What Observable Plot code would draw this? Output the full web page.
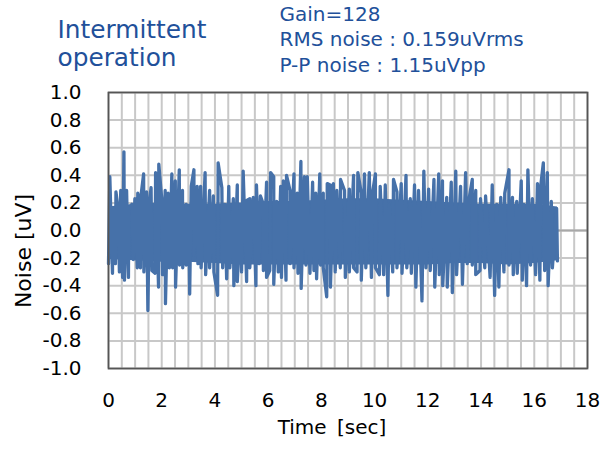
<!DOCTYPE html>
<html>
<head>
<meta charset="utf-8">
<script src="https://cdn.jsdelivr.net/npm/d3@7"></script>
<script src="https://cdn.jsdelivr.net/npm/@observablehq/plot@0.6"></script>
<style>
  html, body { margin: 0; padding: 0; background: #fff; }
  #wrap { position: relative; width: 611px; height: 450px; font-family: "DejaVu Sans", Verdana, sans-serif; }
  .t { position: absolute; white-space: pre; line-height: 1; }
  .title { color: #21509a; font-size: 24.8px; left: 57.5px; }
  .note { color: #21509a; font-size: 20px; left: 279.5px; }
  .axl { color: #000; }
</style>
</head>
<body>
<div id="wrap"></div>
<script>
// Upper peaks of the noise trace (time in sec, value in uV)
const topT = [0.05,0.16,0.28,0.36,0.46,0.58,0.68,0.76,0.88,0.99,1.10,1.22,1.32,1.43,1.54,1.60,1.77,1.89,2.00,2.13,2.24,2.38,2.51,2.66,2.78,2.92,3.01,3.11,3.21,3.33,3.46,3.63,3.80,3.94,4.12,
  4.26,4.37,4.52,4.69,4.84,4.96,5.06,5.21,5.31,5.44,5.56,5.71,5.82,5.94,6.09,6.21,6.32,6.47,6.57,6.69,6.82,6.97,7.09,7.23,7.36,7.47,7.67,7.79,7.94,8.07,8.22,
  8.33,8.45,8.58,8.72,8.87,9.05,9.21,9.37,9.50,9.62,9.80,9.92,10.03,10.21,10.40,10.55,10.71,10.84,11.00,11.18,11.34,11.50,11.65,11.85,12.03,12.23,12.41,
  12.55,12.71,12.88,13.05,13.23,13.42,13.55,13.67,13.80,13.98,14.17,14.42,14.59,14.74,14.89,15.05,15.18,15.34,15.51,15.61,15.76,15.93,16.12,16.24,16.34,16.49,16.64,16.84];
const topV = [0.39,0.16,0.28,0.16,0.29,0.57,0.29,0.16,0.19,0.23,0.27,0.25,0.41,0.28,0.21,0.31,0.42,0.48,0.23,0.29,0.27,0.41,0.36,0.44,0.29,0.19,0.16,0.32,0.44,0.32,0.32,0.42,0.29,0.25,0.49,
  0.31,0.19,0.32,0.23,0.33,0.14,0.43,0.22,0.23,0.24,0.33,0.25,0.19,0.35,0.42,0.39,0.21,0.32,0.36,0.40,0.29,0.41,0.27,0.50,0.39,0.39,0.35,0.27,0.41,0.27,0.34,
  0.33,0.34,0.29,0.37,0.29,0.30,0.40,0.42,0.27,0.41,0.42,0.27,0.41,0.32,0.33,0.19,0.37,0.28,0.34,0.40,0.23,0.33,0.29,0.43,0.30,0.37,0.41,
  0.36,0.24,0.35,0.43,0.32,0.42,0.23,0.37,0.29,0.23,0.25,0.33,0.19,0.24,0.27,0.44,0.24,0.21,0.36,0.19,0.44,0.23,0.34,0.32,0.49,0.42,0.21,0.16];
// Lower peaks of the noise trace
const botT = [0.00,0.15,0.26,0.41,0.53,0.60,0.75,0.93,1.08,1.20,1.33,1.48,1.63,1.75,1.88,2.03,2.14,2.29,2.41,2.52,2.67,2.79,2.92,3.05,3.21,3.36,3.48,3.65,3.80,3.96,4.10,
  4.29,4.44,4.56,4.71,4.84,5.00,5.19,5.31,5.54,5.66,5.82,5.94,6.06,6.21,6.38,6.50,6.67,6.82,6.97,7.12,7.24,7.42,7.57,7.72,7.82,7.97,8.07,8.20,
  8.34,8.52,8.71,8.90,9.05,9.21,9.34,9.50,9.67,9.88,10.03,10.18,10.34,10.50,10.68,10.84,11.03,11.21,11.38,11.55,11.78,11.93,12.09,12.26,12.43,
  12.56,12.73,12.92,13.08,13.30,13.48,13.67,13.80,13.96,14.14,14.34,14.51,14.67,14.86,15.05,15.21,15.36,15.55,15.71,15.86,16.05,16.21,16.39,16.52,16.68,16.87];
const botV = [-0.24,-0.31,-0.24,-0.30,-0.34,-0.36,-0.34,-0.21,-0.27,-0.27,-0.30,-0.58,-0.29,-0.31,-0.41,-0.32,-0.53,-0.27,-0.27,-0.41,-0.25,-0.27,-0.25,-0.46,-0.18,-0.24,-0.27,-0.32,-0.27,-0.30,-0.47,
  -0.27,-0.35,-0.27,-0.40,-0.37,-0.30,-0.37,-0.27,-0.40,-0.24,-0.29,-0.34,-0.29,-0.39,-0.30,-0.34,-0.36,-0.24,-0.27,-0.31,-0.42,-0.25,-0.31,-0.29,-0.35,-0.25,-0.27,-0.48,
  -0.41,-0.30,-0.27,-0.34,-0.30,-0.27,-0.30,-0.36,-0.27,-0.34,-0.27,-0.32,-0.32,-0.47,-0.30,-0.27,-0.31,-0.27,-0.31,-0.41,-0.51,-0.27,-0.29,-0.41,-0.32,
  -0.40,-0.41,-0.45,-0.32,-0.39,-0.24,-0.25,-0.32,-0.29,-0.27,-0.34,-0.47,-0.41,-0.30,-0.25,-0.32,-0.31,-0.36,-0.40,-0.25,-0.32,-0.36,-0.29,-0.40,-0.27,-0.22];
// Dense core of the trace (solid band), read about every second
const coreT  = [0.00, 1.00, 2.00, 3.00, 4.00, 5.00, 6.00, 7.00, 8.00, 9.00, 10.00, 11.00, 12.00, 13.00, 14.00, 15.00, 16.00, 16.87];
const coreHi = [0.17, 0.19, 0.20, 0.19, 0.19, 0.20, 0.21, 0.21, 0.22, 0.23, 0.23, 0.22, 0.21, 0.20, 0.19, 0.19, 0.19, 0.17];
const coreLo = [-0.21, -0.22, -0.23, -0.23, -0.24, -0.25, -0.25, -0.25, -0.25, -0.25, -0.25, -0.25, -0.25, -0.24, -0.24, -0.25, -0.24, -0.22];

const xTicks = [0, 2, 4, 6, 8, 10, 12, 14, 16, 18];
const yTicks = [-1.0, -0.8, -0.6, -0.4, -0.2, 0.0, 0.2, 0.4, 0.6, 0.8, 1.0];
const xGrid = d3.range(0, 18.25, 0.5);

const titleLines = ["Intermittent", "operation"];
const noteLines = ["Gain=128", "RMS noise : 0.159uVrms", "P-P noise : 1.15uVpp"];
const xLabel = "Time [sec]";
const yLabel = "Noise [uV]";

const rows = topT.map((t, i) => ({t, v: topV[i]}))
  .concat(botT.map((t, i) => ({t, v: botV[i]})))
  .sort((a, b) => a.t - b.t);
const core = coreT.map((t, i) => ({t, lo: coreLo[i], hi: coreHi[i]}));

const blue = "#4671a9";
const chart = Plot.plot({
  width: 611,
  height: 450,
  marginLeft: 108,
  marginRight: 24,
  marginTop: 92,
  marginBottom: 82,
  style: {fontFamily: "DejaVu Sans, Verdana, sans-serif", fontSize: "20px", color: "#000", background: "#fff"},
  x: {domain: [0, 18]},
  y: {domain: [-1, 1]},
  marks: [
    Plot.gridX(xGrid, {stroke: "#c8c8c8", strokeOpacity: 1, strokeWidth: 2}),
    Plot.gridY(yTicks, {stroke: "#c8c8c8", strokeOpacity: 1, strokeWidth: 2}),
    Plot.ruleY([0], {stroke: "#a8a8a8", strokeWidth: 2}),
    Plot.areaY(core, {x: "t", y1: "lo", y2: "hi", fill: blue, curve: "linear"}),
    Plot.line(rows, {x: "t", y: "v", stroke: blue, strokeWidth: 3.3, strokeLinejoin: "round", strokeLinecap: "round"}),
    Plot.frame({stroke: "#555", strokeWidth: 1.75}),
    Plot.axisX(xTicks, {tickSize: 0, tickPadding: 24, label: null, fontSize: 20, tickFormat: d => String(d)}),
    Plot.axisY(yTicks, {tickSize: 0, tickPadding: 27, label: null, fontSize: 20, tickFormat: d => d.toFixed(1)})
  ]
});

const wrap = document.getElementById("wrap");
wrap.appendChild(chart);

function addText(txt, cls, styles) {
  const d = document.createElement("div");
  d.className = "t " + cls;
  d.textContent = txt;
  Object.assign(d.style, styles);
  wrap.appendChild(d);
  return d;
}
addText(titleLines[0], "title", {top: (39 - 0.846 * 24.8) + "px"});
addText(titleLines[1], "title", {top: (66.7 - 0.846 * 24.8) + "px"});
[20.7, 45.7, 71.7].forEach((b, i) => addText(noteLines[i], "note", {top: (b - 0.846 * 20) + "px"}));
addText(xLabel, "axl", {fontSize: "20px", left: "232px", width: "200px", textAlign: "center", top: (434 - 0.846 * 20) + "px", wordSpacing: "4px"});
addText(yLabel, "axl", {fontSize: "22px", width: "200px", height: "22px", textAlign: "center",
  left: (24.4 - 100) + "px", top: (251 - 11) + "px", transform: "rotate(-90deg)", transformOrigin: "50% 50%"});
</script>
</body>
</html>
